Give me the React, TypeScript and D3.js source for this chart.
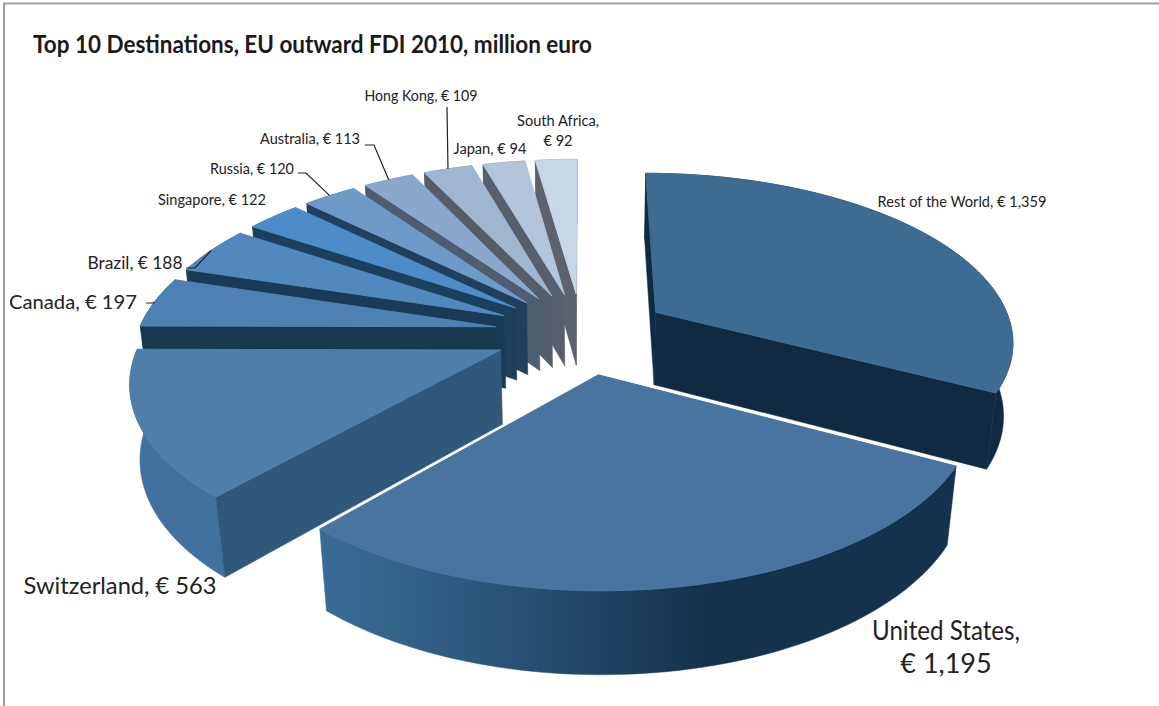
import React from "react";
import * as d3 from "d3";

// Outward FDI stock by destination, in clockwise order from twelve o'clock.
const destinations = ["Rest of the World", "United States", "Switzerland", "Canada", "Brazil", "Singapore", "Russia", "Australia", "Hong Kong", "Japan", "South Africa"];
const amounts = [1359, 1195, 563, 197, 188, 122, 120, 113, 109, 94, 92];
const topFills = ["#3d6b92", "#48749f", "#4f7ea9", "#4e81b2", "#5188bd", "#4d8cc8", "#6f99c7", "#8aa8cb", "#9fb6d1", "#b3c5da", "#c9d6e5"];
const wallFills = ["#0f2a42", "#12304a", "#2f587a", "#17384f", "#1a3b58", "#1c3f5d", "#20405e", "#4f5d70", "#535d6c", "#585f6c", "#5e626c"];
const rimFills = ["#0f2a42", "url(#usRim)", "#41719d", "#17384f", "#1a3b58", "#1c3f5d", "#20405e", "#4f5d70", "#535d6c", "#585f6c", "#5e626c"];

// Text placement: [destination index, lines, centre x, baseline y, font size, width of the longest line, line gap]
const labelLayout: [number, string[], number, number, number, number, number][] = [
  [0, ["Rest of the World, € 1,359"], 962, 207, 14.5, 169, 0],
  [1, ["United States,", "€ 1,195"], 946, 640, 27, 148, 33],
  [2, ["Switzerland, € 563"], 120, 594, 23, 193, 0],
  [3, ["Canada, € 197"], 73, 309, 20, 128, 0],
  [4, ["Brazil, € 188"], 135, 269, 16.5, 95, 0],
  [5, ["Singapore, € 122"], 212, 205, 14.5, 108, 0],
  [6, ["Russia, € 120"], 252, 174, 14.5, 84, 0],
  [7, ["Australia, € 113"], 310, 144, 14.5, 100, 0],
  [8, ["Hong Kong, € 109"], 421, 101, 14.5, 113, 0],
  [9, ["Japan, € 94"], 490, 154, 14.5, 73, 0],
  [10, ["South Africa,", "€ 92"], 558, 126, 14.5, 82, 20],
];

// Leader lines: [destination index, elbow x, elbow y, label-side x]
const leaderLayout: [number, number, number, number][] = [
  [3, 153, 303, 146],
  [4, 195, 268, 186],
  [6, 306, 173, 298],
  [7, 374, 145, 365],
  [8, 447, 107, 447],
];

// Perspective camera: plane coordinates are in pie radii, y running away from the viewer.
const camera = { cx: 582, cy: 333, ax: 358, ay: 167, persp: 0.158, shrink: 0.022, drop: 75, explode: 0.245 };

type Pt = [number, number];

function project(x: number, y: number, bottom: boolean): Pt {
  const w = 1 + camera.persp * y + (bottom ? camera.shrink : 0);
  return [camera.cx + (camera.ax * x) / w, camera.cy + (-camera.ay * y + (bottom ? camera.drop : 0)) / w];
}

const pieLayout = d3.pie<number>().sort(null).startAngle(0).endAngle(2 * Math.PI);

export default function App() {
  const arcs = pieLayout(amounts);
  const outline = d3.line<Pt>().x((d) => d[0]).y((d) => d[1]);

  const solids = arcs.map((a) => {
    const mid = (a.startAngle + a.endAngle) / 2;
    const ox = camera.explode * Math.sin(mid);
    const oy = camera.explode * Math.cos(mid);
    const steps = d3.range(0, 61).map((i) => a.startAngle + ((a.endAngle - a.startAngle) * i) / 60);
    const rimPlane = steps.map((t) => [ox + Math.sin(t), oy + Math.cos(t)] as Pt);
    const rimTop = rimPlane.map((p) => project(p[0], p[1], false));
    const rimBottom = rimPlane.map((p) => project(p[0], p[1], true));
    const apexTop = project(ox, oy, false);
    const apexBottom = project(ox, oy, true);
    const rimMid = project(ox + Math.sin(mid), oy + Math.cos(mid), false);
    // Both radial walls are wound the same way round the solid, so area sign tells which face the camera.
    const startWall: Pt[] = [apexTop, rimTop[0], rimBottom[0], apexBottom];
    const endWall: Pt[] = [rimTop[60], apexTop, apexBottom, rimBottom[60]];
    const rim: Pt[] = [...rimTop, ...[...rimBottom].reverse()];
    const top: Pt[] = [apexTop, ...rimTop];
    return { startWall, endWall, rim, top, rimMid };
  });

  // Far slices first; the large front slices are painted last.
  const order = [10, 9, 8, 7, 6, 5, 4, 3, 2, 0, 1];

  return (
    <svg width={1159} height={706} style={{ position: "absolute", left: 0, top: 0, background: "#fff" }} fontFamily="Lato" fill="#222">
      <defs>
        <linearGradient id="usRim" gradientUnits="userSpaceOnUse" x1={322} x2={700} y1={0} y2={0}>
          <stop offset="0" stopColor="#3a6b96" />
          <stop offset="0.35" stopColor="#2f5b80" />
          <stop offset="0.75" stopColor="#1f4363" />
          <stop offset="1" stopColor="#14324d" />
        </linearGradient>
      </defs>

      <path d="M4,706 V3.5 H1159" fill="none" stroke="#a0a0a0" strokeWidth={2} />
      <text x={33} y={53} fontSize={24} fontWeight={700} fill="#1a1a1a" textLength={559} lengthAdjust="spacingAndGlyphs">
        Top 10 Destinations, EU outward FDI 2010, million euro
      </text>

      {order.map((i) => {
        const s = solids[i];
        const showStart = d3.polygonArea(s.startWall) > 0;
        const showEnd = d3.polygonArea(s.endWall) > 0;
        return (
          <g key={destinations[i]}>
            <path d={outline(s.rim) + "Z"} fill={rimFills[i]} stroke={rimFills[i]} strokeWidth={0.5} />
            {showStart && <path d={outline(s.startWall) + "Z"} fill={wallFills[i]} stroke={wallFills[i]} strokeWidth={0.5} />}
            {showEnd && <path d={outline(s.endWall) + "Z"} fill={wallFills[i]} stroke={wallFills[i]} strokeWidth={0.5} />}
            <path d={outline(s.top) + "Z"} fill={topFills[i]} stroke={topFills[i]} strokeWidth={1} />
          </g>
        );
      })}

      {leaderLayout.map(([i, ex, ey, lx]) => (
        <polyline
          key={i}
          points={`${lx},${ey} ${ex},${ey} ${solids[i].rimMid[0]},${solids[i].rimMid[1]}`}
          fill="none"
          stroke="#222"
          strokeWidth={1.2}
        />
      ))}

      {labelLayout.map(([i, lines, x, y, size, width, gap]) => (
        <text key={i} textAnchor="middle" fontSize={size}>
          {lines.map((line, k) => (
            <tspan key={k} x={x} y={y + k * gap} textLength={k === 0 ? width : undefined} lengthAdjust="spacingAndGlyphs">
              {line}
            </tspan>
          ))}
        </text>
      ))}
    </svg>
  );
}
